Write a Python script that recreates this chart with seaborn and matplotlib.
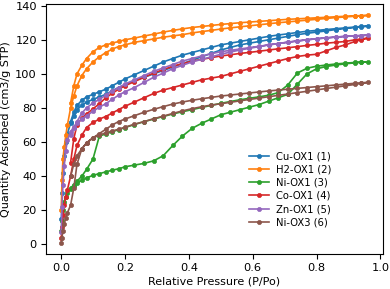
import matplotlib
matplotlib.use("Agg")
import matplotlib.pyplot as plt
import seaborn as sns
import pandas as pd

samples = ["Cu-OX1 (1)", "H2-OX1 (2)", "Ni-OX1 (3)", "Co-OX1 (4)", "Zn-OX1 (5)", "Ni-OX3 (6)"]
colors = ["#1f77b4", "#ff7f0e", "#2ca02c", "#d62728", "#9467bd", "#8c564b"]

p_ads = [0.001, 0.003, 0.006, 0.01, 0.015, 0.02, 0.03, 0.04, 0.05, 0.065, 0.08, 0.1, 0.12, 0.14,
         0.16, 0.18, 0.2, 0.23, 0.26, 0.29, 0.32, 0.35, 0.38, 0.41, 0.44, 0.47, 0.5, 0.53, 0.56,
         0.59, 0.62, 0.65, 0.68, 0.71, 0.74, 0.77, 0.8, 0.83, 0.86, 0.89, 0.92, 0.94, 0.96]
p_des = [0.94, 0.92, 0.89, 0.86, 0.83, 0.8, 0.77, 0.74, 0.71, 0.68, 0.65, 0.62, 0.59, 0.56, 0.53,
         0.5, 0.47, 0.44, 0.41, 0.38, 0.35, 0.32, 0.29, 0.26, 0.23, 0.2, 0.18, 0.16, 0.14, 0.12,
         0.1, 0.08, 0.065, 0.05, 0.04, 0.03]

cu_ads = [15, 30, 42, 52, 60, 65, 71, 75.5, 79, 81.5, 83.5, 85, 86.5, 88, 90, 92, 93.5, 96, 98, 100,
          102, 104, 106, 108, 110, 112, 114, 115.5, 117, 118, 119, 120, 121, 122, 123, 123.8, 124.5,
          125.2, 126, 126.6, 127.2, 127.6, 128]
cu_des = [127.8, 127.5, 127, 126.5, 126, 125.5, 125, 124.3, 123.5, 122.8, 122, 121, 120, 119, 118,
          117, 115.5, 114, 112.5, 111, 109, 107, 104.5, 102, 99.5, 97, 95, 93, 91, 89.5, 88, 86.5,
          84.5, 81.5, 77.5, 72]

h2_ads = [20, 38, 50, 57, 64, 70, 80, 87, 93, 99, 103, 107, 110, 112.5, 114.5, 116, 117, 118.5,
          119.5, 120.5, 121.5, 122.3, 123, 124, 124.8, 125.5, 126.3, 127, 127.6, 128.2, 128.8, 129.4,
          130, 130.5, 131, 131.5, 132, 132.5, 133, 133.4, 133.8, 134, 134.3]
h2_des = [134.2, 134, 133.8, 133.5, 133.2, 132.9, 132.6, 132.3, 132, 131.6, 131.2, 130.8, 130.4,
          130, 129.5, 129, 128.4, 127.8, 127.2, 126.4, 125.5, 124.5, 123.3, 122.2, 121, 120, 119,
          118, 117, 115.5, 113, 109, 105, 100, 93, 83]

ni_ads = [8, 14, 20, 25, 28, 30, 32.5, 34.5, 36, 37.5, 39, 40.5, 41.5, 42.5, 43.5, 44.3, 45.5, 46.5,
          47.5, 49, 52, 58, 63.5, 68, 71, 73.5, 76, 77.5, 79, 80.5, 82, 84, 86, 88, 94, 100, 103,
          104.3, 105.2, 105.9, 106.5, 106.8, 107]
ni_des = [106.9, 106.7, 106.3, 105.8, 105.2, 104.5, 103.3, 100.5, 93.5, 89, 87.5, 86.5, 85.7, 84.8,
          83.8, 82.7, 81.5, 80.3, 79, 77.8, 76.5, 75, 73.5, 72, 70.3, 68.5, 67.3, 66, 64.8, 63.5,
          50, 44, 40, 37, 35, 33]

co_ads = [4, 10, 17, 23, 28, 32, 40, 50, 58, 64, 68.5, 71.5, 73.5, 75, 77, 79, 81, 83.5, 86, 88.5,
          90.5, 92, 93.5, 95, 96.5, 97.5, 98.5, 100, 101.5, 103, 104.5, 106, 107.5, 109, 110.2,
          111, 111.5, 113.5, 115.5, 117, 119, 120, 121]
co_des = [120.5, 120, 119, 118.5, 118, 117.3, 116.7, 116, 115.3, 114.7, 114, 113.3, 112.6, 112,
          111.2, 110.5, 109.5, 108.5, 107.5, 106, 104.5, 102.5, 100.5, 98, 95.5, 93, 91, 88.5, 86,
          82.5, 79.5, 76.5, 74, 70, 62, 48]

zn_ads = [7, 22, 35, 46, 55, 61, 66, 69, 71, 73.5, 75.5, 78, 80.5, 82.5, 85, 87.5, 89.5, 92, 95,
          98, 100.5, 103, 105, 107, 108.5, 110, 111.5, 112.8, 114, 115, 116, 117, 117.8, 118.6,
          119.3, 120, 120.6, 121.1, 121.6, 122, 122.3, 122.5, 122.7]
zn_des = [122.5, 122.3, 122, 121.6, 121.1, 120.6, 120, 119.3, 118.6, 117.8, 117, 116.2, 115.4,
          114.6, 113.8, 113, 111.8, 110.5, 109, 107.5, 105.5, 103.5, 101.5, 99, 96.5, 94, 92, 90,
          87.5, 85, 83, 80, 77, 72, 68, 64]

ni3_ads = [1, 4, 8, 12, 15.5, 18.5, 23, 33, 47, 56, 59.5, 62.5, 64, 65.5, 66.5, 67.5, 68.7, 70.5,
           72, 73.7, 75.2, 76.8, 78.3, 79.6, 80.7, 81.7, 82.5, 83.3, 84.2, 85, 85.8, 86.6, 87.4, 88.2,
           89, 89.8, 90.6, 91.4, 92.2, 93, 93.8, 94.4, 95]
ni3_des = [94.8, 94.5, 94, 93.5, 93, 92.5, 92, 91.5, 91, 90.5, 90, 89.4, 88.8, 88.2, 87.6, 87,
           86.2, 85.4, 84.5, 83.5, 82.3, 80.8, 79.2, 77.5, 75.5, 73.5, 72, 70, 67.5, 65, 62.5, 59.5,
           56, 52, 47, 40]

ads_all = [cu_ads, h2_ads, ni_ads, co_ads, zn_ads, ni3_ads]
des_all = [cu_des, h2_des, ni_des, co_des, zn_des, ni3_des]

fig = plt.figure(figsize=(3.9, 2.89), dpi=100)
ax = fig.add_axes([0.118, 0.121, 0.864, 0.865])

for name, col, ads, des in zip(samples, colors, ads_all, des_all):
    df = pd.DataFrame({"P": p_ads + p_des, "Q": ads + des})
    sns.lineplot(data=df, x="P", y="Q", sort=False, estimator=None, ax=ax, color=col,
                 marker="o", markersize=3, markeredgecolor=col, markeredgewidth=0.5,
                 linewidth=1.2, label=name)

ax.set_xlabel("Relative Pressure (P/Po)", fontsize=8, labelpad=2.5)
ax.set_ylabel("Quantity Adsorbed (cm3/g STP)", fontsize=8, labelpad=3)
ax.tick_params(labelsize=8.2, length=3.5, pad=3)
ax.set_yticks([0, 20, 40, 60, 80, 100, 120, 140])
ax.set_xticks([0.0, 0.2, 0.4, 0.6, 0.8, 1.0])
ax.legend(loc="lower right", bbox_to_anchor=(0.86, 0.09), frameon=False, fontsize=7.2,
          labelspacing=0.33, handlelength=2.0, handletextpad=0.7, borderaxespad=0)

fig.savefig("out.png", dpi=100)
